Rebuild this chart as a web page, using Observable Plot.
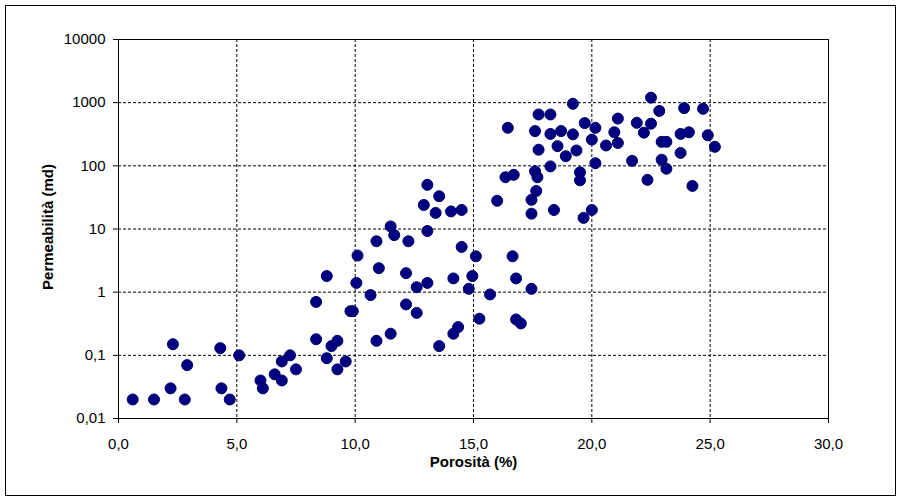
<!DOCTYPE html>
<html>
<head>
<meta charset="utf-8">
<script src="https://cdn.jsdelivr.net/npm/d3@7"></script>
<script src="https://cdn.jsdelivr.net/npm/@observablehq/plot@0.6"></script>
<style>
  html, body { margin: 0; padding: 0; background: white; }
  #wrap { position: relative; width: 900px; height: 500px; }
  #border { position: absolute; left: 5px; top: 5px; width: 891px; height: 491px; box-sizing: border-box; border: 1px solid black; pointer-events: none; }
</style>
</head>
<body>
<div id="wrap"><div id="chart"></div><div id="border"></div></div>
<script>
// Porosity (%) values
const porosity = [
  0.6, 1.5, 2.2, 2.3, 2.8, 2.9, 4.3, 4.35, 4.7, 5.1,
  6.0, 6.1, 6.6, 6.9, 6.9, 7.25, 7.5, 8.35, 8.35, 8.8,
  9.0, 9.25, 9.25, 9.6, 9.8, 9.9, 10.65, 10.05, 8.8,
  13.05, 13.55, 12.9, 13.4, 14.05, 14.5, 16.0, 16.35, 16.7, 17.6,
  17.7, 17.65, 17.45, 17.45, 11.5, 11.65, 10.9, 12.25, 13.05, 10.1,
  14.5, 15.1, 16.65, 11.0, 12.15, 12.6, 13.05, 14.15, 14.95, 14.8,
  16.8, 17.45, 15.7, 12.15, 12.6, 15.25, 16.8, 17.0, 10.9, 11.5,
  14.15, 14.35, 13.55,
  22.5, 19.2, 17.75, 18.25, 23.9, 24.7, 22.85, 21.1, 16.45, 17.6,
  19.7, 20.15, 21.9, 22.5, 20.95, 22.2, 18.25, 18.7, 19.2, 23.75,
  24.1, 24.9, 20.0, 21.1, 20.6, 22.95, 23.15, 25.2, 18.55, 17.75,
  19.35, 18.9, 23.75, 22.95, 21.7, 20.15, 18.25, 23.15, 19.5, 19.5,
  18.4, 20.0, 19.65, 22.35, 24.25
];
// Permeability (md) values
const permeability = [
  0.02, 0.02, 0.03, 0.15, 0.02, 0.07, 0.13, 0.03, 0.02, 0.1,
  0.04, 0.03, 0.05, 0.04, 0.08, 0.1, 0.06, 0.7, 0.18, 0.09,
  0.14, 0.17, 0.06, 0.08, 0.5, 0.5, 0.9, 1.4, 1.8,
  50, 33, 24, 18, 19, 20, 28, 66, 72, 82,
  66, 40, 29, 17.5, 11, 8, 6.4, 6.4, 9.3, 3.8,
  5.2, 3.7, 3.7, 2.4, 2.0, 1.2, 1.4, 1.65, 1.8, 1.13,
  1.65, 1.13, 0.92, 0.64, 0.47, 0.38, 0.37, 0.32, 0.17, 0.22,
  0.22, 0.28, 0.14,
  1200, 960, 650, 650, 820, 800, 740, 560, 400, 355,
  475, 400, 480, 465, 340, 335, 320, 355, 315, 320,
  340, 305, 260, 230, 210, 240, 240, 200, 205, 180,
  175, 142, 160, 125, 120, 110, 98, 90, 79, 59,
  20, 20, 15, 60, 48
];
const xTicks = [0, 5, 10, 15, 20, 25, 30];
const yTicks = [0.01, 0.1, 1, 10, 100, 1000, 10000];
const xTitle = "Porosità (%)";
const yTitle = "Permeabilità (md)";

const data = porosity.map((p, i) => ({p, k: permeability[i]}));
const comma = s => String(s).replace(".", ",");

const chart = Plot.plot({
  width: 900,
  height: 500,
  marginLeft: 118,
  marginRight: 72,
  marginTop: 39,
  marginBottom: 82,
  style: {fontFamily: "'Liberation Sans', Arial, sans-serif", fontSize: "15px", color: "black", background: "white"},
  x: {domain: [0, 30]},
  y: {type: "log", domain: [0.01, 10000]},
  marks: [
    Plot.gridX(xTicks, {stroke: "black", strokeOpacity: 1, strokeDasharray: "3,2"}),
    Plot.gridY(yTicks, {stroke: "black", strokeOpacity: 1, strokeDasharray: "3,2"}),
    Plot.frame({stroke: "black", strokeWidth: 1}),
    Plot.axisX(xTicks, {tickSize: 5, tickPadding: 15, tickFormat: d => comma(d.toFixed(1)), label: null, fontSize: 15}),
    Plot.axisY(yTicks, {tickSize: 5, tickPadding: 8, tickFormat: d => comma(d), label: null, fontSize: 15}),
    Plot.dot(data, {x: "p", y: "k", r: 5.5, fill: "#000080", stroke: "#000066", strokeWidth: 1}),
    Plot.text([xTitle], {frameAnchor: "bottom", textAnchor: "middle", lineAnchor: "middle", dy: 44, fontWeight: "bold", fontSize: 15}),
    Plot.text([yTitle], {frameAnchor: "left", textAnchor: "middle", lineAnchor: "middle", dx: -70, dy: -2, rotate: -90, fontWeight: "bold", fontSize: 15})
  ]
});
document.getElementById("chart").appendChild(chart);
</script>
</body>
</html>
